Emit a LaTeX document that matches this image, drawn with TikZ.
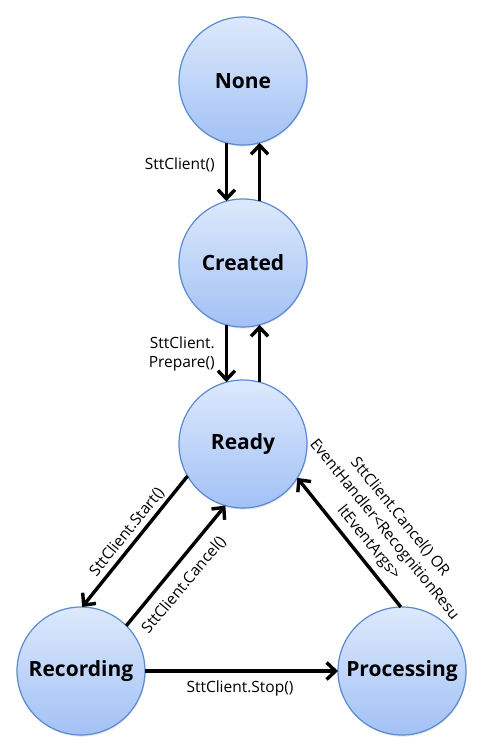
\documentclass[tikz,border=0pt]{standalone}
\usepackage{fontspec}
\setmainfont{Open Sans}
\usetikzlibrary{arrows.meta,shadows}
\definecolor{topblue}{HTML}{DDE9FC}
\definecolor{botblue}{HTML}{A2C1F5}
\definecolor{edgeblue}{HTML}{5A8AD0}
\tikzset{
  state/.style={circle, minimum size=128bp, inner sep=0pt, outer sep=0pt,
    draw=edgeblue, line width=1.2bp, top color=topblue, bottom color=botblue,
    font=\bfseries\fontsize{21bp}{26bp}\selectfont,
    drop shadow={opacity=0.18, shadow xshift=0.6bp, shadow yshift=-1.6bp}},
  trans/.style={line width=3.4bp, -{Straight Barb[length=9bp,width=17bp,line width=3.4bp]}},
  lbl/.style={font=\fontsize{15.5bp}{18.5bp}\selectfont, inner sep=0pt}
}
\begin{document}
\begin{tikzpicture}[x=1bp,y=-1bp]
\useasboundingbox (0,0) rectangle (482,754);
\node[state] (None) at (243,81) {None};
\node[state] (Created) at (243,263) {Created};
\node[state] (Ready) at (243,444) {Ready};
\node[state] (Recording) at (81,671) {Recording};
\node[state] (Processing) at (402,671) {Processing};

\draw[trans] (None.255) -- (Created.105);
\draw[trans] (Created.75) -- (None.285);
\draw[trans] (Created.255) -- (Ready.105);
\draw[trans] (Ready.75) -- (Created.285);
\draw[trans] (Ready.210) -- (Recording.89);
\draw[trans] (Recording.45) -- (Ready.254);
\draw[trans] (Processing.91) -- (Ready.328);
\draw[trans] (Recording.east) -- (Processing.west);

\node[lbl, anchor=east] (l1) at (215,165) {SttClient()};
\node[lbl, anchor=east, align=right] (l2) at (215,354) {SttClient.\\Prepare()};
\node[lbl, rotate=51] (l3) at (127,532) {SttClient.Start()};
\node[lbl, rotate=50] (l4) at (184,585) {SttClient.Cancel()};
\node[lbl, rotate=-51, align=center, font=\fontsize{15.5bp}{20bp}\selectfont] (l5) at (384,530) {SttClient.Cancel() OR\\EventHandler<RecognitionResu\\ltEventArgs>};
\node[lbl] (l6) at (240,688) {SttClient.Stop()};
\end{tikzpicture}
\end{document}
